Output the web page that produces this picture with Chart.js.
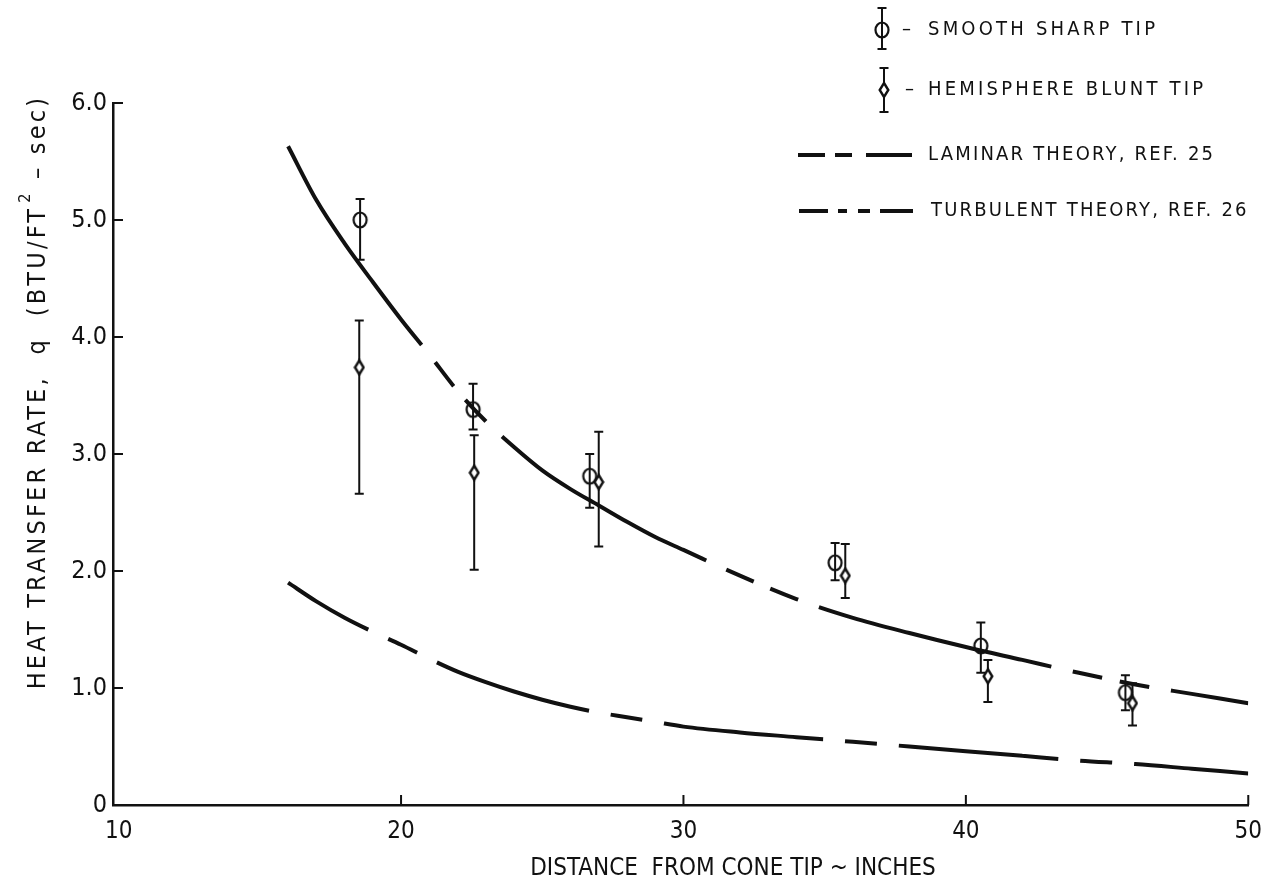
<!DOCTYPE html>
<html>
<head>
<meta charset="utf-8">
<script src="https://cdn.jsdelivr.net/npm/chart.js@4.4.1/dist/chart.umd.min.js"></script>
<style>
	body { margin: 0; background: #fff; }
	#contenedor { width: 1274px; height: 889px; position: relative; }
</style>
</head>
<body>
<div id="contenedor"><canvas id="grafica"></canvas></div>
<script>
// measured heat transfer, smooth sharp tip (circles) with error band
var sharpX = [18.55, 22.55, 26.68, 35.37, 40.53, 45.65];
var sharpQ = [5.00, 3.38, 2.81, 2.07, 1.36, 0.96];
var sharpMin = [4.66, 3.21, 2.54, 1.92, 1.13, 0.81];
var sharpMax = [5.18, 3.60, 3.00, 2.24, 1.56, 1.11];

// measured heat transfer, hemisphere blunt tip (diamonds)
var bluntX = [18.52, 22.59, 27.00, 35.73, 40.78, 45.90];
var bluntQ = [3.74, 2.84, 2.76, 1.96, 1.10, 0.87];
var bluntMin = [2.66, 2.01, 2.21, 1.77, 0.88, 0.68];
var bluntMax = [4.14, 3.16, 3.19, 2.23, 1.24, 1.04];

// theory curves
var theoryX = [16, 17, 18, 19, 20, 21, 22, 23, 24, 25, 26, 27, 28, 29, 30, 32, 34, 36, 38, 40, 42, 44, 46, 48, 50];
var turbulentQ = [5.63, 5.17, 4.80, 4.47, 4.15, 3.85, 3.54, 3.28, 3.06, 2.86, 2.70, 2.56, 2.42, 2.29, 2.18, 1.96, 1.76, 1.60, 1.47, 1.35, 1.24, 1.13, 1.03, 0.95, 0.87];
var laminarQ = [1.90, 1.74, 1.60, 1.48, 1.37, 1.25, 1.14, 1.05, 0.97, 0.90, 0.84, 0.79, 0.75, 0.71, 0.67, 0.62, 0.58, 0.54, 0.50, 0.46, 0.42, 0.38, 0.35, 0.31, 0.27];

var xTicks = [10, 20, 30, 40, 50];
var yTicks = [0, 1, 2, 3, 4, 5, 6];

var tinta = '#111';
var letra = "'Liberation Sans Narrow', 'DejaVu Sans Condensed', sans-serif";

function puntos(xs, ys) {
	var d = [];
	for (var i = 0; i < xs.length; i++) {
		d.push({ x : xs[i], y : ys[i] });
	}
	return d;
}

// marker images
function marcaCirculo() {
	var c = document.createElement('canvas');
	c.width = 18; c.height = 20;
	var g = c.getContext('2d');
	g.strokeStyle = tinta;
	g.lineWidth = 2.2;
	g.beginPath();
	g.ellipse(9, 10, 6.5, 7.5, 0, 0, Math.PI * 2);
	g.stroke();
	return c;
}

function marcaRombo() {
	var c = document.createElement('canvas');
	c.width = 12; c.height = 18;
	var g = c.getContext('2d');
	g.strokeStyle = tinta;
	g.fillStyle = '#fff';
	g.lineWidth = 2.4;
	g.beginPath();
	g.moveTo(6, 2); g.lineTo(10.3, 9); g.lineTo(6, 16); g.lineTo(1.7, 9);
	g.closePath();
	g.fill();
	g.stroke();
	return c;
}

var circulo = marcaCirculo();
var rombo = marcaRombo();

function barraError(ctx, x, y1, y2) {
	ctx.beginPath();
	ctx.moveTo(x, y1); ctx.lineTo(x, y2);
	ctx.moveTo(x - 4.5, y1); ctx.lineTo(x + 4.5, y1);
	ctx.moveTo(x - 4.5, y2); ctx.lineTo(x + 4.5, y2);
	ctx.stroke();
}

var barrasPlugin = {
	id : 'barras',
	beforeDatasetsDraw : function(chart) {
		var ctx = chart.ctx, sx = chart.scales.x, sy = chart.scales.y;
		ctx.save();
		ctx.strokeStyle = tinta;
		ctx.lineWidth = 2;
		for (var i = 0; i < sharpX.length; i++) {
			barraError(ctx, sx.getPixelForValue(sharpX[i]), sy.getPixelForValue(sharpMax[i]), sy.getPixelForValue(sharpMin[i]));
		}
		for (var j = 0; j < bluntX.length; j++) {
			barraError(ctx, sx.getPixelForValue(bluntX[j]), sy.getPixelForValue(bluntMax[j]), sy.getPixelForValue(bluntMin[j]));
		}
		ctx.restore();
	}
};

// inward tick marks, axis titles and the key
var marcoPlugin = {
	id : 'marco',
	afterDraw : function(chart) {
		var ctx = chart.ctx, sx = chart.scales.x, sy = chart.scales.y, a = chart.chartArea;
		ctx.save();
		ctx.strokeStyle = tinta;
		ctx.lineWidth = 2;
		ctx.beginPath();
		xTicks.forEach(function(v) {
			if (v === xTicks[0]) return;
			var px = sx.getPixelForValue(v);
			ctx.moveTo(px, a.bottom); ctx.lineTo(px, a.bottom - 10);
		});
		yTicks.forEach(function(v) {
			if (v === 0) return;
			var py = sy.getPixelForValue(v);
			ctx.moveTo(a.left, py); ctx.lineTo(a.left + 10, py);
		});
		ctx.stroke();

		ctx.fillStyle = tinta;
		ctx.textBaseline = 'middle';

		// x title
		ctx.font = '24px ' + letra;
		ctx.letterSpacing = '0px';
		ctx.textAlign = 'center';
		ctx.fillText('DISTANCE  FROM CONE TIP ~ INCHES', 733, 869);

		// y title, with raised exponent
		ctx.save();
		ctx.translate(38, 392);
		ctx.rotate(-Math.PI / 2);
		ctx.textAlign = 'left';
		ctx.letterSpacing = '3.2px';
		var p1 = 'HEAT TRANSFER RATE,  q  (BTU/FT', p3 = ' \u2013 sec)';
		ctx.font = '25px ' + letra;
		var w1 = ctx.measureText(p1).width, w3 = ctx.measureText(p3).width;
		ctx.font = '16px ' + letra;
		var w2 = ctx.measureText('2').width + 4;
		var x0 = -(w1 + w2 + w3) / 2;
		ctx.font = '25px ' + letra;
		ctx.fillText(p1, x0, 0);
		ctx.fillText(p3, x0 + w1 + w2, 0);
		ctx.font = '16px ' + letra;
		ctx.fillText('2', x0 + w1 + 3, -12);
		ctx.restore();

		// key
		ctx.textAlign = 'left';
		ctx.font = '20px ' + letra;
		ctx.lineWidth = 2;
		barraError(ctx, 882, 8, 49);
		ctx.drawImage(circulo, 882 - 9, 30 - 10);
		barraError(ctx, 884, 68, 112);
		ctx.drawImage(rombo, 884 - 6, 90 - 9);
		ctx.letterSpacing = '3.2px';
		ctx.fillText('\u2013', 902, 30);
		ctx.fillText('SMOOTH SHARP TIP', 928, 30);
		ctx.fillText('\u2013', 905, 90);
		ctx.fillText('HEMISPHERE BLUNT TIP', 928, 90);

		ctx.lineWidth = 4;
		ctx.lineCap = 'butt';
		[[798, 825], [835, 852], [866, 912]].forEach(function(s) {
			ctx.beginPath(); ctx.moveTo(s[0], 155); ctx.lineTo(s[1], 155); ctx.stroke();
		});
		[[799, 828], [838, 847], [858, 870], [880, 913]].forEach(function(s) {
			ctx.beginPath(); ctx.moveTo(s[0], 211); ctx.lineTo(s[1], 211); ctx.stroke();
		});
		ctx.letterSpacing = '2.2px';
		ctx.fillText('LAMINAR THEORY, REF. 25', 928, 155);
		ctx.fillText('TURBULENT THEORY, REF. 26', 931, 211);
		ctx.restore();
	}
};

var ctx = document.getElementById('grafica').getContext('2d');
var chart = new Chart(ctx, {
	type : 'scatter',
	data : {
		datasets : [ {
			label : 'SMOOTH SHARP TIP',
			data : puntos(sharpX, sharpQ),
			pointStyle : circulo,
			pointRadius : 7,
			showLine : false
		}, {
			label : 'HEMISPHERE BLUNT TIP',
			data : puntos(bluntX, bluntQ),
			pointStyle : rombo,
			pointRadius : 7,
			showLine : false
		}, {
			label : 'TURBULENT THEORY, REF. 26',
			data : puntos(theoryX, turbulentQ),
			showLine : true,
			borderColor : tinta,
			borderWidth : 4,
			borderDash : [240, 22, 30, 18, 30, 22],
			borderCapStyle : 'butt',
			cubicInterpolationMode : 'monotone',
			pointRadius : 0
		}, {
			label : 'LAMINAR THEORY, REF. 25',
			data : puntos(theoryX, laminarQ),
			showLine : true,
			borderColor : tinta,
			borderWidth : 4,
			borderDash : [160, 22, 32, 22],
			borderDashOffset : 67,
			borderCapStyle : 'butt',
			cubicInterpolationMode : 'monotone',
			pointRadius : 0
		} ]
	},
	options : {
		responsive : true,
		maintainAspectRatio : false,
		animation : false,
		layout : {
			padding : { top : 103, right : 23, left : 0, bottom : 0 }
		},
		plugins : {
			legend : { display : false },
			tooltip : { enabled : false }
		},
		scales : {
			x : {
				type : 'linear',
				min : 9.8,
				max : 50,
				afterBuildTicks : function(scale) {
					scale.ticks = xTicks.map(function(v) { return { value : v }; });
				},
				afterFit : function(scale) { scale.height = 84; },
				grid : { display : false, drawTicks : false },
				border : { display : true, color : tinta, width : 2.5 },
				ticks : {
					color : tinta,
					padding : 12,
					font : { family : letra, size : 24 }
				}
			},
			y : {
				type : 'linear',
				min : 0,
				max : 6,
				afterBuildTicks : function(scale) {
					scale.ticks = yTicks.map(function(v) { return { value : v }; });
				},
				afterFit : function(scale) { scale.width = 113; },
				grid : { display : false, drawTicks : false },
				border : { display : true, color : tinta, width : 2.5 },
				ticks : {
					color : tinta,
					padding : 6,
					font : { family : letra, size : 25 },
					callback : function(v) { return v === 0 ? '0' : v.toFixed(1); }
				}
			}
		}
	},
	plugins : [ barrasPlugin, marcoPlugin ]
});
</script>
</body>
</html>
